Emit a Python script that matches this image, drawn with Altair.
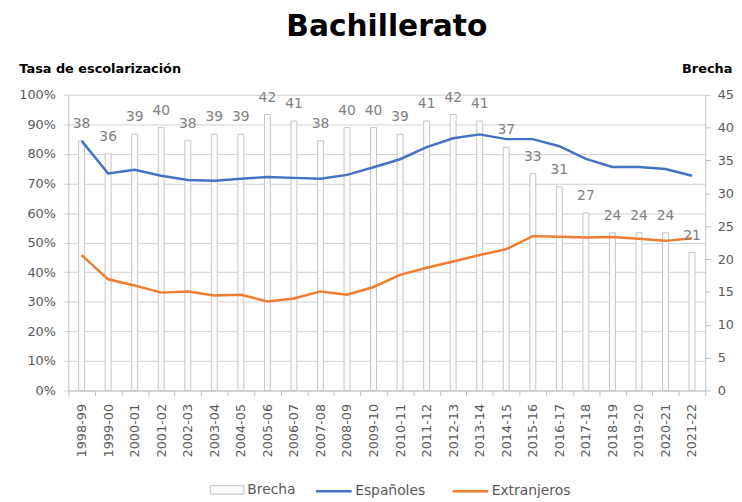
import altair as alt
import pandas as pd

years = ["1998-99", "1999-00", "2000-01", "2001-02", "2002-03", "2003-04",
         "2004-05", "2005-06", "2006-07", "2007-08", "2008-09", "2009-10",
         "2010-11", "2011-12", "2012-13", "2013-14", "2014-15", "2015-16",
         "2016-17", "2017-18", "2018-19", "2019-20", "2020-21", "2021-22"]
brecha = [38, 36, 39, 40, 38, 39, 39, 42, 41, 38, 40, 40,
          39, 41, 42, 41, 37, 33, 31, 27, 24, 24, 24, 21]
espanoles = [84.4, 73.4, 74.6, 72.6, 71.2, 70.9, 71.6, 72.2, 71.9, 71.6, 72.9, 75.5,
             78.2, 82.3, 85.3, 86.6, 85.0, 85.0, 82.6, 78.3, 75.6, 75.6, 74.9, 72.6]
extranjeros = [45.8, 37.6, 35.5, 33.1, 33.5, 32.1, 32.4, 30.1, 31.1, 33.5, 32.4, 35.0,
               39.1, 41.5, 43.6, 45.8, 47.8, 52.2, 52.0, 51.7, 51.9, 51.3, 50.6, 51.5]

series_bar = ["Brecha"]
series_lines = ["Españoles", "Extranjeros"]
line_colors = ["#4472C4", "#ED7D31"]

FONT = "DejaVu Sans"
TXT = "#595959"

bar_df = pd.DataFrame({"curso": years, "brecha": brecha, "serie": series_bar * len(years)})
line_df = pd.DataFrame({
    "curso": years * 2,
    "tasa": espanoles + extranjeros,
    "serie": [series_lines[0]] * len(years) + [series_lines[1]] * len(years),
})

x_enc = alt.X(
    "curso:N", sort=years,
    scale=alt.Scale(paddingInner=0, paddingOuter=0),
    axis=alt.Axis(title=None, labelAngle=-90, tickBand="extent", labelFontSize=13,
                  labelColor=TXT, labelFont=FONT, domainColor="#bfbfbf", tickColor="#bfbfbf",
                  tickSize=5, labelPadding=8, grid=False),
)

bars = alt.Chart(bar_df).mark_bar(size=6, stroke="#c4c4c4", strokeWidth=1).encode(
    x=x_enc,
    y=alt.Y("brecha:Q", scale=alt.Scale(domain=[0, 45]),
            axis=alt.Axis(orient="right", values=list(range(0, 50, 5)), grid=False,
                          title="Brecha", titleAngle=0, titleAlign="left", titleBaseline="middle",
                          titleX=-24, titleY=-27, titleFontSize=13, titleFont=FONT,
                          titleFontWeight="bold", titleColor="black",
                          labelFontSize=13, labelColor=TXT, labelFont=FONT,
                          domainColor="#bfbfbf", tickColor="#bfbfbf", tickSize=5,
                          labelPadding=7)),
    fill=alt.Fill("serie:N", scale=alt.Scale(domain=series_bar, range=["#fcfcfc"]),
                  legend=alt.Legend(title=None, orient="none", legendX=143, legendY=382,
                                    symbolType="M-1,-0.25H1V0.25H-1Z", symbolSize=1156,
                                    symbolStrokeColor="#bfbfbf", symbolStrokeWidth=1,
                                    labelFontSize=14, labelColor=TXT, labelFont=FONT,
                                    labelOffset=3, padding=0)),
)

text = alt.Chart(bar_df).mark_text(baseline="bottom", dy=-10, fontSize=14, color="#808080",
                                   font=FONT).encode(
    x=x_enc,
    y=alt.Y("brecha:Q", scale=alt.Scale(domain=[0, 45]), axis=None),
    text="brecha:Q",
)

lines = alt.Chart(line_df).mark_line(strokeWidth=2.5).encode(
    x=x_enc,
    y=alt.Y("tasa:Q", scale=alt.Scale(domain=[0, 100]),
            axis=alt.Axis(orient="left", values=list(range(0, 101, 10)),
                          labelExpr="datum.value + '%'", grid=True, gridColor="#d0d0d0",
                          title="Tasa de escolarización", titleAngle=0, titleAlign="left",
                          titleBaseline="middle", titleX=-50, titleY=-27, titleFontSize=13,
                          titleFont=FONT, titleFontWeight="bold", titleColor="black",
                          labelFontSize=13, labelColor=TXT, labelFont=FONT,
                          domainColor="#bfbfbf", tickColor="#d0d0d0", tickSize=5,
                          labelPadding=8)),
    color=alt.Color("serie:N", scale=alt.Scale(domain=series_lines, range=line_colors),
                    legend=alt.Legend(title=None, orient="none", legendX=249, legendY=381,
                                      direction="horizontal", symbolType="stroke",
                                      symbolSize=1296, symbolStrokeWidth=2.5,
                                      labelFontSize=14, labelColor=TXT, labelFont=FONT,
                                      labelOffset=2, columnPadding=22, padding=0)),
)

chart = alt.layer(bars, lines, text).resolve_scale(
    y="independent", fill="independent", color="independent"
).properties(
    width=644, height=299,
    title=alt.TitleParams("Bachillerato", fontSize=30, font=FONT, fontWeight="bold",
                          color="black", anchor="middle", offset=20),
    padding={"left": 10, "top": 2, "right": 0, "bottom": 0},
).configure_view(stroke=None)

chart.save("out.html", embed_options={"renderer": "svg", "actions": False})
